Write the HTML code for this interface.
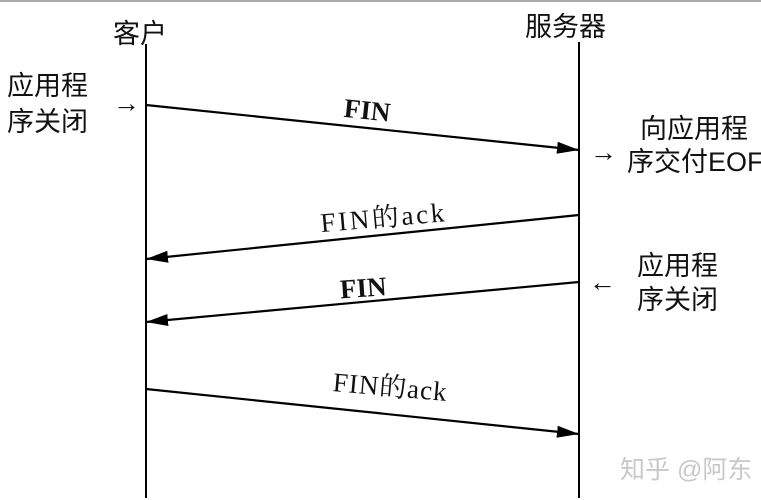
<!DOCTYPE html>
<html><head><meta charset="utf-8"><style>
html,body{margin:0;padding:0;background:#fff;}
svg{display:block;}
.cjk{font-family:"Liberation Sans","Noto Sans CJK SC",sans-serif;font-size:27px;fill:#111;}
.ser{font-family:"Liberation Serif","Noto Serif CJK SC",serif;font-size:27px;fill:#111;}
</style></head><body>
<svg width="761" height="500" viewBox="0 0 761 500" xmlns="http://www.w3.org/2000/svg">
<rect x="0" y="0" width="761" height="500" fill="#fff"/>
<line x1="0" y1="1" x2="761" y2="1" stroke="#aaa" stroke-width="2"/>
<defs><marker id="a" markerWidth="22" markerHeight="12" refX="22" refY="6" orient="auto" markerUnits="userSpaceOnUse"><path d="M0,0 L22,6 L0,12 Z" fill="#000"/></marker></defs>
<line x1="146" y1="44" x2="146" y2="498" stroke="#000" stroke-width="2"/>
<line x1="579" y1="42" x2="579" y2="498" stroke="#000" stroke-width="2"/>
<text class="cjk" x="113" y="43" font-size="28">客户</text>
<text class="cjk" x="525" y="36" font-size="28">服务器</text>
<text class="cjk" x="7" y="95">应用程</text>
<text class="cjk" x="7" y="131">序关闭</text>
<text class="cjk" x="113" y="112" font-size="26">→</text>
<text class="cjk" x="640" y="138">向应用程</text>
<text class="cjk" x="627" y="171">序交付EOF</text>
<text class="cjk" x="590" y="161" font-size="26">→</text>
<text class="cjk" x="637" y="275">应用程</text>
<text class="cjk" x="637" y="309">序关闭</text>
<text class="cjk" x="589" y="291" font-size="26">←</text>
<line x1="146" y1="105" x2="579" y2="150" stroke="#000" stroke-width="2.2" marker-end="url(#a)"/>
<line x1="579" y1="215" x2="146" y2="259" stroke="#000" stroke-width="2.2" marker-end="url(#a)"/>
<line x1="579" y1="282" x2="146" y2="322" stroke="#000" stroke-width="2.2" marker-end="url(#a)"/>
<line x1="146" y1="389" x2="579" y2="434" stroke="#000" stroke-width="2.2" marker-end="url(#a)"/>
<text class="ser" font-weight="bold" font-size="23" x="344" y="119" transform="rotate(6 365 110)">FIN</text>
<text class="ser" x="320" y="227" textLength="124" transform="rotate(-5 380 215)">FIN的ack</text>
<text class="ser" font-weight="bold" font-size="23" x="340" y="297" transform="rotate(-4 360 288)">FIN</text>
<text class="ser" x="333" y="396" textLength="114" transform="rotate(5 390 385)">FIN的ack</text>
<text x="620" y="478" font-family="Liberation Sans,'Noto Sans CJK SC',sans-serif" font-size="25" fill="#c8c8c8">知乎 @阿东</text>
</svg>
</body></html>
